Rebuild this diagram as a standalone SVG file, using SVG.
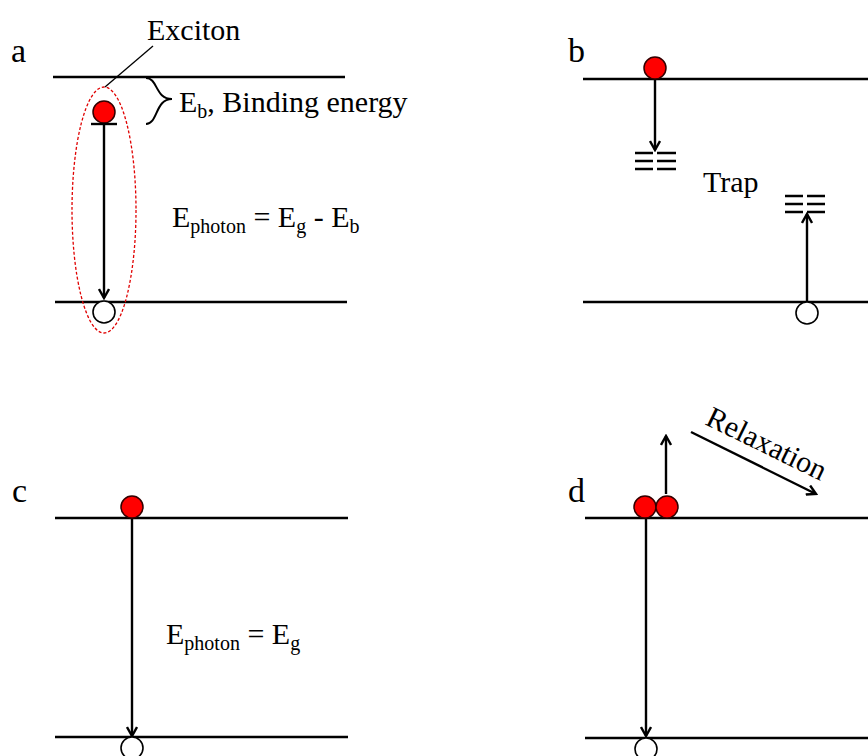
<svg xmlns="http://www.w3.org/2000/svg" width="868" height="756" viewBox="0 0 868 756">
<defs>
<marker id="ah" viewBox="0 0 12 12" refX="10" refY="6" markerWidth="12" markerHeight="12" markerUnits="userSpaceOnUse" orient="auto">
<path d="M1,1 L10,6 L1,11" fill="none" stroke="#000" stroke-width="2.4"/>
</marker>
</defs>
<style>
.lvl{stroke:#000;stroke-width:2.4;fill:none}
.arr{stroke:#000;stroke-width:2.4;fill:none;marker-end:url(#ah)}
.e{fill:#ff0000;stroke:#300;stroke-width:1.5}
.h{fill:#fff;stroke:#000;stroke-width:1.6}
text{font-family:"Liberation Serif","Times New Roman",serif;fill:#000}
.t{font-size:30px}
.s{font-size:20px}
.lbl{font-size:34px}
.trap{stroke:#000;stroke-width:2.6}
</style>
<rect width="868" height="756" fill="#fff"/>

<g id="connectors">
<line class="arr" x1="104" y1="124" x2="104" y2="298"/>
<line class="arr" x1="655" y1="80" x2="655" y2="150"/>
<line class="arr" x1="807" y1="302" x2="807" y2="214"/>
<line class="arr" x1="132" y1="518" x2="132" y2="736"/>
<line class="arr" x1="646" y1="518" x2="646" y2="736"/>
<line class="arr" x1="666" y1="494" x2="666" y2="436"/>
<line class="arr" x1="691" y1="432" x2="816" y2="494"/>
<line x1="153" y1="46" x2="105" y2="87" stroke="#000" stroke-width="1.3"/>
</g>

<g id="panel-a">
<text class="lbl" x="11" y="62">a</text>
<line class="lvl" x1="53" y1="77" x2="345" y2="77"/>
<line class="lvl" x1="55" y1="302" x2="347" y2="302"/>
<ellipse cx="104" cy="210" rx="32" ry="123" fill="none" stroke="#e00000" stroke-width="1.3" stroke-dasharray="3,2"/>
<circle class="e" cx="104" cy="112" r="11"/>
<line x1="91" y1="124" x2="117" y2="124" stroke="#000" stroke-width="2.4"/>
<circle class="h" cx="104" cy="312" r="11"/>
<path d="M146,78 C158,78 155,99 172,99 C155,99 158,124 146,124" fill="none" stroke="#000" stroke-width="2"/>
<text class="t" x="147" y="40">Exciton</text>
<text class="t" x="179" y="112">E<tspan class="s" dy="6">b</tspan><tspan dy="-6">, Binding energy</tspan></text>
<text class="t" x="172" y="227">E<tspan class="s" dy="6">photon</tspan><tspan dy="-6"> = E</tspan><tspan class="s" dy="6">g</tspan><tspan dy="-6"> - E</tspan><tspan class="s" dy="6">b</tspan></text>
</g>

<g id="panel-b">
<text class="lbl" x="568" y="62">b</text>
<line class="lvl" x1="583" y1="79" x2="868" y2="79"/>
<line class="lvl" x1="583" y1="302" x2="868" y2="302"/>
<circle class="e" cx="655" cy="68" r="11"/>
<circle class="h" cx="807" cy="313" r="11"/>
<path class="trap" d="M635,153H653M657,153H676M635,161H653M657,161H676M635,169H653M657,169H676"/>
<path class="trap" d="M785,196H803M807,196H825M785,204H803M807,204H825M785,212H803M807,212H825"/>
<text class="t" x="703" y="192">Trap</text>
</g>

<g id="panel-c">
<text class="lbl" x="12" y="502">c</text>
<line class="lvl" x1="55" y1="518" x2="348" y2="518"/>
<line class="lvl" x1="55" y1="737" x2="348" y2="737"/>
<circle class="e" cx="132" cy="507" r="11"/>
<circle class="h" cx="132" cy="748" r="11"/>
<text class="t" x="166" y="644">E<tspan class="s" dy="6">photon</tspan><tspan dy="-6"> = E</tspan><tspan class="s" dy="6">g</tspan></text>
</g>

<g id="panel-d">
<text class="lbl" x="568" y="502">d</text>
<line class="lvl" x1="585" y1="518" x2="868" y2="518"/>
<line class="lvl" x1="585" y1="738" x2="868" y2="738"/>
<circle class="e" cx="645" cy="507" r="11"/>
<circle class="e" cx="667" cy="507" r="11"/>
<circle class="h" cx="646" cy="749" r="11"/>
<text class="t" transform="translate(704,424) rotate(26)">Relaxation</text>
</g>
</svg>
